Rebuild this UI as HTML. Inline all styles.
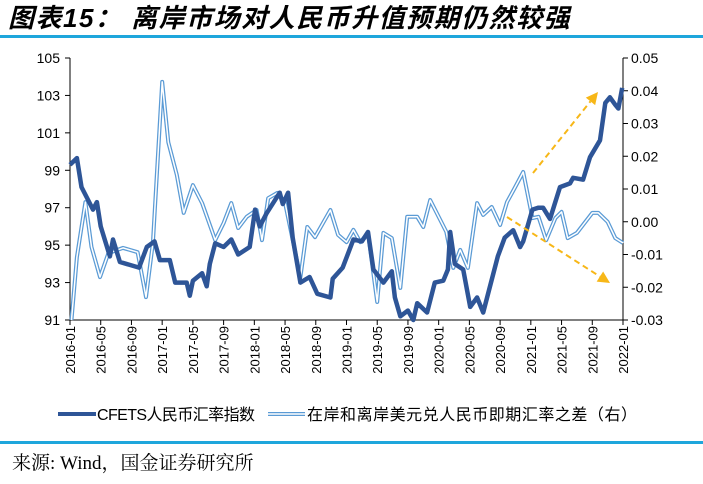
<!DOCTYPE html>
<html><head><meta charset="utf-8">
<style>
body{margin:0;background:#fff;width:703px;height:484px;overflow:hidden;font-family:"Liberation Sans","Noto Sans CJK SC",sans-serif;}
svg{position:absolute;left:0;top:0}
</style></head>
<body>
<svg width="703" height="484" id="chart">
<text x="8" y="27" font-size="26" font-weight="bold" font-style="italic" fill="#000" letter-spacing="1.5" font-family="'Liberation Sans','Noto Sans CJK SC',sans-serif">图表15：  离岸市场对人民币升值预期仍然较强</text>
<rect x="0" y="35" width="703" height="3" fill="#1ea6dc"/>
<rect x="0" y="441" width="703" height="3" fill="#1ea6dc"/>
<text x="12" y="469" font-size="19" fill="#000" font-family="'Liberation Serif','Noto Serif CJK SC',serif">来源: Wind，国金证券研究所</text>
<g id="axes"></g>
<g id="marks"></g>
<g>
<line x1="58" y1="414" x2="96" y2="414" stroke="#2e5597" stroke-width="4"/>
<text x="97" y="420" font-size="16" fill="#000" textLength="158">CFETS人民币汇率指数</text>
<line x1="268" y1="414" x2="305" y2="414" stroke="#5b9bd5" stroke-width="4"/>
<line x1="268" y1="414" x2="305" y2="414" stroke="#fff" stroke-width="1.5"/>
<text x="307" y="420" font-size="16" fill="#000" textLength="330">在岸和离岸美元兑人民币即期汇率之差（右）</text>
</g>
</svg>
<script>
const cfetsMonth=[0,0.9,1.5,3,3.5,4,5.2,5.6,6.5,9,10,11,11.7,13,13.7,15.2,15.6,16,17.2,17.8,18.2,18.9,20,21,21.9,23.4,24.1,24.7,25.6,27.3,27.7,28.4,29,30,31.2,32.2,33.9,34.2,35.5,36.9,38,38.8,39.5,40.8,41.9,42.3,43,44,44.7,45.2,46.5,47.5,48.6,49.2,49.5,50.1,51.2,52.1,53,53.8,54.3,55.7,56.6,57.7,58.6,59,60.2,61,61.6,62.5,63.8,65.1,65.5,66.8,67.7,69,69.7,70.3,71,71.4,71.9];
const cfetsValue=[99.3,99.65,98.1,96.9,97.3,96.0,94.4,95.3,94.1,93.8,94.9,95.2,94.2,94.2,93.0,93.0,92.3,93.1,93.5,92.8,94.0,95.1,94.9,95.3,94.5,94.9,96.9,96.0,96.7,97.8,97.2,97.8,95.4,93.0,93.3,92.4,92.2,93.2,93.8,95.3,95.2,95.7,93.7,93.0,93.6,92.2,91.2,91.5,91.0,91.9,91.4,93.0,93.1,93.7,95.7,94.0,93.7,91.7,92.2,91.4,92.2,94.4,95.4,95.8,94.9,95.2,96.9,97.0,97.0,96.4,98.1,98.3,98.6,98.5,99.7,100.6,102.6,102.9,102.5,102.3,103.4];
const spreadMonth=[0.2,0.9,2,2.8,3.9,5,6.9,8.8,9.9,10.8,12,12.8,13.9,14.8,16,17.2,18.9,20,21,21.9,23,24.3,25,25.8,27,28,30,30.9,31.9,33.9,34.9,36,36.9,37.8,38.8,40,40.8,41.9,43,43.9,45.2,46,46.9,49,49.9,50.8,51.8,53,53.8,54.9,56,56.9,57.9,59,60.2,61,62,63.2,64,64.8,66,68,68.8,70,71,72];
const spreadValue=[-0.03,-0.0108,0.006,-0.0077,-0.0169,-0.0096,-0.008,-0.0093,-0.023,-0.0065,0.0427,0.0243,0.0143,0.0027,0.0112,0.0057,-0.0056,-0.0004,0.0057,-0.0019,0.0015,0.0036,-0.0056,0.0072,0.0088,0.0057,-0.0169,-0.0016,-0.0047,0.0036,-0.004,-0.0062,-0.0025,-0.0062,-0.0034,-0.0245,-0.0034,-0.005,-0.0202,0.0015,0.0015,-0.0016,0.0066,-0.0031,-0.0141,-0.0086,-0.0141,0.0057,0.0021,0.0045,-0.001,0.006,0.0103,0.0152,0.0011,0.0015,-0.0056,0.0011,0.003,-0.005,-0.0034,0.0027,0.0027,0,-0.005,-0.0065];
const leftTicks=[91,93,95,97,99,101,103,105];
const rightTicks=["-0.03","-0.02","-0.01","0.00","0.01","0.02","0.03","0.04","0.05"];
const xTickLabels=["2016-01","2016-05","2016-09","2017-01","2017-05","2017-09","2018-01","2018-05","2018-09","2019-01","2019-05","2019-09","2020-01","2020-05","2020-09","2021-01","2021-05","2021-09","2022-01"];

const X0=70,X1=623,Y0=320,Y1=58;
const xs=m=>X0+(X1-X0)*m/72;
const yL=v=>Y0-(v-91)/(105-91)*(Y0-Y1);
const yR=v=>Y0-(v+0.03)/(0.08)*(Y0-Y1);
const NS="http://www.w3.org/2000/svg";
const axes=document.getElementById('axes'),marks=document.getElementById('marks');
function mk(tag,attrs,parent,text){const e=document.createElementNS(NS,tag);for(const k in attrs)e.setAttribute(k,attrs[k]);if(text!==undefined)e.textContent=text;parent.appendChild(e);return e;}

let e=mk('line',{x1:X0,y1:Y1,x2:X0,y2:Y0,stroke:'#000','stroke-width':1},axes);


e=mk('line',{x1:X1,y1:Y1,x2:X1,y2:Y0,stroke:'#000','stroke-width':1},axes);


e=mk('line',{x1:X0,y1:Y0,x2:X1,y2:Y0,stroke:'#000','stroke-width':1},axes);


leftTicks.forEach(v=>{const y=yL(v);mk('line',{x1:X0-5,y1:y,x2:X0,y2:y,stroke:'#000'},axes);
 const t=mk('text',{x:X0-10,y:y+5,'font-size':14,'text-anchor':'end',fill:'#000'},axes,String(v));
 
 });
rightTicks.forEach(s=>{const y=yR(parseFloat(s));mk('line',{x1:X1,y1:y,x2:X1+5,y2:y,stroke:'#000'},axes);
 const t=mk('text',{x:X1+8,y:y+5,'font-size':14,fill:'#000'},axes,s);
 
 });
xTickLabels.forEach((s,i)=>{const x=xs(i*4);mk('line',{x1:x,y1:Y0,x2:x,y2:Y0+5,stroke:'#000'},axes);
 const t=mk('text',{x:0,y:0,'font-size':13,'text-anchor':'end',fill:'#000',transform:`translate(${x+5},${Y0+6}) rotate(-90)`},axes,s);
 
 });

const sp=spreadMonth.map((m,i)=>xs(m).toFixed(1)+','+yR(spreadValue[i]).toFixed(1)).join(' ');
e=mk('polyline',{points:sp,fill:'none',stroke:'#5b9bd5','stroke-width':4,'stroke-linejoin':'round'},marks);


mk('polyline',{points:sp,fill:'none',stroke:'#fff','stroke-width':1.5,'stroke-linejoin':'round'},marks);
const cp=cfetsMonth.map((m,i)=>xs(m).toFixed(1)+','+yL(cfetsValue[i]).toFixed(1)).join(' ');
e=mk('polyline',{points:cp,fill:'none',stroke:'#2e5597','stroke-width':4.5,'stroke-linejoin':'round'},marks);



function arrow(x1,y1,x2,y2,name){
 const ang=Math.atan2(y2-y1,x2-x1),L=12,W=6;
 const bx=x2-L*Math.cos(ang),by=y2-L*Math.sin(ang);
 const g=mk('g',{},marks);
 
 
 mk('line',{x1,y1,x2:bx,y2:by,stroke:'#f7b718','stroke-width':2,'stroke-dasharray':'6,4'},g);
 const px=-Math.sin(ang)*W,py=Math.cos(ang)*W;
 mk('polygon',{points:`${x2},${y2} ${bx+px},${by+py} ${bx-px},${by-py}`,fill:'#f7b718'},g);
}
arrow(533,173,598,92,'up-arrow');
arrow(507,217,610,283,'down-arrow');
</script>
</body></html>
